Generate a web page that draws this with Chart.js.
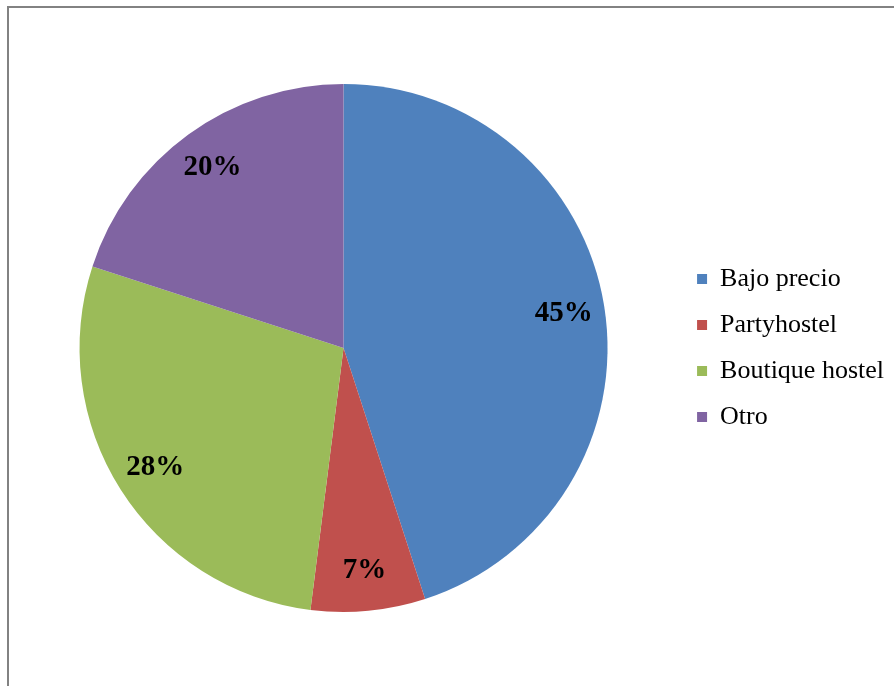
<!DOCTYPE html>
<html>
<head>
<meta charset="utf-8">
<script src="https://cdn.jsdelivr.net/npm/chart.js@4"></script>
<style>
    html, body { margin: 0; padding: 0; background: #fff; overflow: hidden; }
    #frame {
        position: absolute; left: 7px; top: 6px;
        width: 1000px; height: 800px;
        border-left: 2px solid #828282; border-top: 2px solid #828282;
    }
    #wrap { position: absolute; left: 0; top: 0; width: 894px; height: 686px; }
</style>
</head>
<body>
<div id="frame"></div>
<div id="wrap"><canvas id="pieChart" width="894" height="686"></canvas></div>
<script>
const categories = ["Bajo precio", "Partyhostel", "Boutique hostel", "Otro"];
const shares = [45, 7, 28, 20];
const sliceColors = ["#4F81BD", "#C0504D", "#9BBB59", "#8064A2"];

// percentage text inside each slice
const sliceLabels = {
    id: "sliceLabels",
    afterDatasetsDraw(chart) {
        const ctx = chart.ctx;
        const meta = chart.getDatasetMeta(0);
        ctx.save();
        ctx.font = "bold 29px 'Liberation Serif', 'Times New Roman', serif";
        ctx.fillStyle = "#000";
        ctx.textAlign = "center";
        ctx.textBaseline = "middle";
        meta.data.forEach((arc, i) => {
            const p = arc.getProps(["x", "y", "startAngle", "endAngle", "outerRadius"], true);
            const mid = (p.startAngle + p.endAngle) / 2;
            const r = p.outerRadius * 0.845;
            ctx.fillText(shares[i] + "%", p.x + Math.cos(mid) * r, p.y + Math.sin(mid) * r);
        });
        ctx.restore();
    }
};

new Chart(document.getElementById("pieChart"), {
    type: "pie",
    data: {
        labels: categories,
        datasets: [{
            data: shares,
            backgroundColor: sliceColors,
            borderWidth: 0
        }]
    },
    options: {
        responsive: false,
        animation: false,
        layout: { padding: { top: 84, bottom: 74, left: 10, right: 0 } },
        plugins: {
            tooltip: { enabled: false },
            legend: {
                position: "right",
                labels: {
                    boxWidth: 10,
                    boxHeight: 10,
                    padding: 20,
                    color: "#000",
                    font: { family: "'Liberation Serif', 'Times New Roman', serif", size: 26 }
                }
            }
        }
    },
    plugins: [sliceLabels]
});
</script>
</body>
</html>
